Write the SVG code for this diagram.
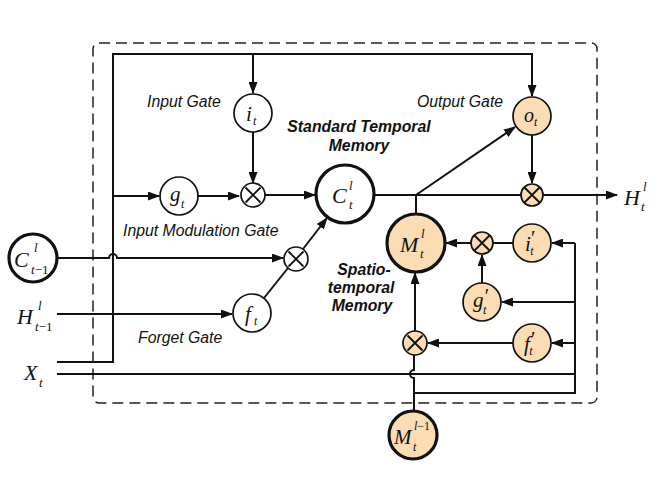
<svg xmlns="http://www.w3.org/2000/svg" width="668" height="478" viewBox="0 0 668 478">
<style>
.ln{fill:none;stroke:#111;stroke-width:2}
.ar{marker-end:url(#ah)}
.c{fill:#fff;stroke:#111;stroke-width:1.7}
.cp{fill:#fbdcb3;stroke:#111;stroke-width:1.7}
.ck{fill:#fff;stroke:#111;stroke-width:3.2}
.ckp{fill:#fbdcb3;stroke:#111;stroke-width:3.2}
.m{font-family:"Liberation Serif",serif;font-style:italic;fill:#111}
.lb{font-family:"Liberation Sans",Arial,sans-serif;font-style:italic;font-size:15.8px;fill:#111}
.bd{font-family:"Liberation Sans",Arial,sans-serif;font-style:italic;font-weight:bold;font-size:15.8px;fill:#111}
</style>
<defs>
<marker id="ah" markerUnits="userSpaceOnUse" markerWidth="12" markerHeight="9" refX="11" refY="4.5" orient="auto">
<path d="M0,0 L12,4.5 L0,9 z" fill="#111"/>
</marker>
<symbol id="mul" viewBox="-12 -12 24 24" overflow="visible">
<path d="M-7.5,-7.5 L7.5,7.5 M7.5,-7.5 L-7.5,7.5" stroke="#111" stroke-width="1.8"/>
</symbol>
</defs>
<rect x="0" y="0" width="668" height="478" fill="#fff"/>
<rect x="93" y="43" width="504" height="360" rx="6" fill="none" stroke="#222" stroke-width="1.5" stroke-dasharray="11,6"/>

<g id="connectors">
<path class="ln ar" d="M57,362 H113 V54 H532 V96"/>
<path class="ln ar" d="M253,54 V93"/>
<path class="ln ar" d="M253,132 V183"/>
<path class="ln ar" d="M113,196 H159"/>
<path class="ln ar" d="M198,196 H239"/>
<path class="ln ar" d="M265,195 H315"/>
<path class="ln ar" d="M57,258 H109 a4,4 0 0 1 8,0 H283"/>
<path class="ln ar" d="M303,249 L327,218"/>
<path class="ln ar" d="M57,314 H232"/>
<path class="ln" d="M264,298 L288,268"/>
<path class="ln" d="M374,195 H521"/>
<path class="ln ar" d="M416,195 L515,127"/>
<path class="ln" d="M416,195 V214"/>
<path class="ln ar" d="M532,135 V183"/>
<path class="ln ar" d="M543,195 H617"/>
<path class="ln" d="M414,393 H575 V243"/>
<path class="ln ar" d="M575,243 H552"/>
<path class="ln ar" d="M575,302 H502"/>
<path class="ln ar" d="M575,343 H552"/>
<path class="ln" d="M57,374 H575"/>
<path class="ln" d="M513,243 H493"/>
<path class="ln ar" d="M471,243 H446"/>
<path class="ln ar" d="M482,283 V255"/>
<path class="ln ar" d="M513,343 H428"/>
<path class="ln ar" d="M415,331 V273"/>
<path class="ln" d="M414,411 V378 a4,4 0 0 1 0,-8 V355"/>
</g>

<g id="i_t"><circle class="c" cx="253" cy="113" r="19"/><text class="m" x="246" y="121" font-size="21">i</text><text class="m" x="253" y="125" font-size="12">t</text></g>
<g id="g_t"><circle class="c" cx="179" cy="196" r="19"/><text class="m" x="170" y="201" font-size="21">g</text><text class="m" x="181" y="208" font-size="12">t</text></g>
<g id="mul_i"><circle class="c" cx="253" cy="195" r="12"/><use href="#mul" x="241" y="183" width="24" height="24"/></g>
<g id="C_t"><circle class="ck" cx="345" cy="194" r="29"/><text class="m" x="332" y="203" font-size="22">C</text><text class="m" x="349" y="190" font-size="13">l</text><text class="m" x="349" y="209" font-size="13">t</text></g>
<g id="C_prev"><circle class="ck" cx="33" cy="258" r="24"/><text class="m" x="14" y="267" font-size="22">C</text><text class="m" x="34" y="252" font-size="13">l</text><text class="m" x="31" y="274" font-size="13">t<tspan font-style="normal">−1</tspan></text></g>
<g id="mul_f"><circle class="c" cx="296" cy="259" r="12"/><use href="#mul" x="284" y="247" width="24" height="24"/></g>
<g id="H_prev"><text class="m" x="17" y="324" font-size="22">H</text><text class="m" x="38" y="310" font-size="13">l</text><text class="m" x="35" y="331" font-size="13">t<tspan font-style="normal">−1</tspan></text></g>
<g id="f_t"><circle class="c" cx="252" cy="313" r="19"/><text class="m" x="245" y="321" font-size="21">f</text><text class="m" x="254" y="325" font-size="12">t</text></g>
<g id="X_t"><text class="m" x="24" y="380" font-size="22">X</text><text class="m" x="39" y="387" font-size="13">t</text></g>
<g id="o_t"><circle class="cp" cx="532" cy="116" r="19"/><text class="m" x="524" y="122" font-size="20">o</text><text class="m" x="534" y="126" font-size="12">t</text></g>
<g id="mul_o"><circle class="cp" cx="532" cy="195" r="11"/><use href="#mul" x="520" y="183" width="24" height="24"/></g>
<g id="H_t"><text class="m" x="624" y="205" font-size="22">H</text><text class="m" x="643" y="191" font-size="13">l</text><text class="m" x="641" y="211" font-size="13">t</text></g>
<g id="M_t"><circle class="ckp" cx="416" cy="243" r="29"/><text class="m" x="400" y="252" font-size="22">M</text><text class="m" x="421" y="238" font-size="13">l</text><text class="m" x="420" y="258" font-size="13">t</text></g>
<g id="mul_ip"><circle class="cp" cx="482" cy="243" r="11"/><use href="#mul" x="470" y="231" width="24" height="24"/></g>
<g id="i_p"><circle class="cp" cx="532" cy="243" r="19"/><text class="m" x="525" y="251" font-size="21">i<tspan font-size="20" dx="-1" dy="-6">′</tspan><tspan font-size="12" dx="-4" dy="10">t</tspan></text></g>
<g id="g_p"><circle class="cp" cx="482" cy="302" r="19"/><text class="m" x="473" y="307" font-size="21">g<tspan font-size="20" dx="0" dy="-4">′</tspan><tspan font-size="12" dx="-5" dy="11">t</tspan></text></g>
<g id="f_p"><circle class="cp" cx="532" cy="343" r="19"/><text class="m" x="524" y="351" font-size="21">f<tspan font-size="20" dx="0" dy="-5">′</tspan><tspan font-size="12" dx="-5" dy="9">t</tspan></text></g>
<g id="mul_fp"><circle class="cp" cx="415" cy="343" r="12"/><use href="#mul" x="403" y="331" width="24" height="24"/></g>
<g id="M_prev"><circle class="ckp" cx="413" cy="435" r="24"/><text class="m" x="394" y="444" font-size="21">M</text><text class="m" x="414" y="430" font-size="12">l<tspan font-style="normal">−1</tspan></text><text class="m" x="413" y="451" font-size="12">t</text></g>

<g id="labels">
<text class="lb" x="147" y="107">Input Gate</text>
<text class="lb" x="417" y="107">Output Gate</text>
<text class="lb" x="123" y="236">Input Modulation Gate</text>
<text class="lb" x="138" y="343">Forget Gate</text>
<text class="bd" x="359" y="132" text-anchor="middle">Standard Temporal</text>
<text class="bd" x="359" y="151" text-anchor="middle">Memory</text>
<text class="bd" x="364" y="275" text-anchor="middle">Spatio-</text>
<text class="bd" x="361" y="293" text-anchor="middle">temporal</text>
<text class="bd" x="362" y="311" text-anchor="middle">Memory</text>
</g>
</svg>
